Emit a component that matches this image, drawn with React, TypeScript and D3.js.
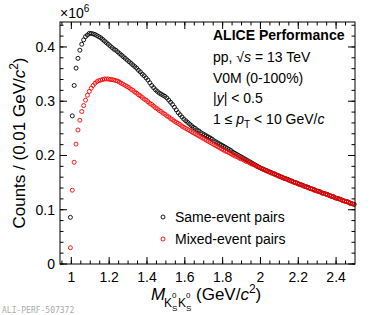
import {useMemo} from "react";
import * as d3 from "d3";

// K0s K0s invariant mass, 0.01 GeV/c^2 bins starting at 0.995
const BIN_START = 0.995;
const BIN_WIDTH = 0.01;

// Same-event pairs (x10^6 counts)
const sameEvent = [
    0.086, 0.273, 0.329, 0.361, 0.379, 0.394, 0.405, 0.413, 0.419, 0.422,
    0.425, 0.425, 0.424, 0.423, 0.421, 0.419, 0.417, 0.414, 0.411, 0.408,
    0.405, 0.402, 0.399, 0.396, 0.394, 0.391, 0.388, 0.385, 0.382, 0.379,
    0.376, 0.373, 0.370, 0.367, 0.364, 0.361, 0.357, 0.354, 0.350, 0.347,
    0.343, 0.339, 0.334, 0.329, 0.325, 0.321, 0.318, 0.315, 0.313, 0.311,
    0.309, 0.306, 0.302, 0.298, 0.294, 0.289, 0.284, 0.279, 0.275, 0.271,
    0.267, 0.264, 0.261, 0.258, 0.255, 0.252, 0.250, 0.247, 0.245, 0.242,
    0.240, 0.238, 0.236, 0.234, 0.232, 0.230, 0.227, 0.225, 0.223, 0.221,
    0.219, 0.217, 0.215, 0.213, 0.211, 0.209, 0.206, 0.204, 0.202, 0.200,
    0.198, 0.196, 0.194, 0.192, 0.190, 0.188, 0.186, 0.184, 0.182, 0.180,
    0.178, 0.176, 0.175, 0.173, 0.172, 0.170, 0.169, 0.167, 0.166, 0.164,
    0.163, 0.161, 0.160, 0.158, 0.157, 0.156, 0.154, 0.153, 0.151, 0.150,
    0.149, 0.147, 0.146, 0.145, 0.143, 0.142, 0.141, 0.139, 0.138, 0.137,
    0.135, 0.134, 0.133, 0.131, 0.130, 0.129, 0.128, 0.126, 0.125, 0.124,
    0.122, 0.121, 0.120, 0.119, 0.117, 0.116, 0.115, 0.114, 0.112, 0.111,
    0.110,
];

// Mixed-event pairs (x10^6 counts)
const mixedEvent = [
    0.030, 0.136, 0.1875, 0.221, 0.247, 0.265, 0.281, 0.292, 0.302, 0.311,
    0.318, 0.324, 0.329, 0.333, 0.336, 0.338, 0.339, 0.340, 0.341, 0.341,
    0.341, 0.340, 0.340, 0.339, 0.338, 0.337, 0.335, 0.333, 0.331, 0.329,
    0.327, 0.325, 0.322, 0.320, 0.317, 0.315, 0.312, 0.310, 0.307, 0.304,
    0.302, 0.299, 0.296, 0.294, 0.291, 0.288, 0.286, 0.283, 0.281, 0.278,
    0.276, 0.273, 0.271, 0.268, 0.266, 0.263, 0.261, 0.259, 0.257, 0.254,
    0.252, 0.250, 0.248, 0.246, 0.244, 0.242, 0.240, 0.238, 0.236, 0.234,
    0.232, 0.230, 0.228, 0.226, 0.224, 0.222, 0.220, 0.218, 0.216, 0.214,
    0.212, 0.210, 0.208, 0.207, 0.205, 0.203, 0.201, 0.199, 0.198, 0.196,
    0.194, 0.193, 0.191, 0.189, 0.188, 0.186, 0.184, 0.183, 0.181, 0.179,
    0.178, 0.176, 0.174, 0.173, 0.171, 0.170, 0.168, 0.167, 0.165, 0.164,
    0.162, 0.161, 0.159, 0.158, 0.157, 0.155, 0.154, 0.152, 0.151, 0.150,
    0.148, 0.147, 0.146, 0.144, 0.143, 0.142, 0.140, 0.139, 0.138, 0.136,
    0.135, 0.134, 0.133, 0.131, 0.130, 0.129, 0.128, 0.126, 0.125, 0.124,
    0.122, 0.121, 0.120, 0.119, 0.117, 0.116, 0.115, 0.114, 0.112, 0.111,
    0.110,
];

const legendLabels = ["Same-event pairs", "Mixed-event pairs"];
const seriesColors = ["#000000", "#ff0000"];

const WIDTH = 382;
const HEIGHT = 315;
const FRAME = {left: 60, right: 355, top: 22, bottom: 264};
const FONT = "'Liberation Sans', Arial, Helvetica, sans-serif";

export default function App() {
    const xScale = useMemo(() => d3.scaleLinear().domain([0.94, 2.5]).range([FRAME.left, FRAME.right]), []);
    const yScale = useMemo(() => d3.scaleLinear().domain([0, 0.446]).range([FRAME.bottom, FRAME.top]), []);

    const xMajor = d3.range(1.0, 2.41, 0.2);
    const xMinor = d3.range(0.95, 2.5, 0.05);
    const yMajor = d3.range(0, 0.41, 0.1);
    const yMinor = d3.range(0, 0.446, 0.02);

    const fmt = (v: number) => String(+v.toFixed(2));

    const points = (vals: number[], color: string, key: string) =>
        vals.map((v, i) => (
            <circle
                key={key + i}
                cx={xScale(BIN_START + i * BIN_WIDTH)}
                cy={yScale(v)}
                r={2}
                fill="none"
                stroke={color}
                strokeWidth={0.9}
            />
        ));

    const ML = 7, MN = 3.5;

    return (
        <svg width={WIDTH} height={HEIGHT} style={{position: "absolute", left: 0, top: 0}} fontFamily={FONT}>
            <rect width={WIDTH} height={HEIGHT} fill="white"/>

            {/* ticks on all four sides, pointing inward */}
            <g stroke="black" strokeWidth={1}>
                {xMinor.map((t, i) => (
                    <g key={"xm" + i}>
                        <line x1={xScale(t)} x2={xScale(t)} y1={FRAME.bottom} y2={FRAME.bottom - MN}/>
                        <line x1={xScale(t)} x2={xScale(t)} y1={FRAME.top} y2={FRAME.top + MN}/>
                    </g>
                ))}
                {xMajor.map((t, i) => (
                    <g key={"xM" + i}>
                        <line x1={xScale(t)} x2={xScale(t)} y1={FRAME.bottom} y2={FRAME.bottom - ML}/>
                        <line x1={xScale(t)} x2={xScale(t)} y1={FRAME.top} y2={FRAME.top + ML}/>
                    </g>
                ))}
                {yMinor.map((t, i) => (
                    <g key={"ym" + i}>
                        <line x1={FRAME.left} x2={FRAME.left + MN} y1={yScale(t)} y2={yScale(t)}/>
                        <line x1={FRAME.right} x2={FRAME.right - MN} y1={yScale(t)} y2={yScale(t)}/>
                    </g>
                ))}
                {yMajor.map((t, i) => (
                    <g key={"yM" + i}>
                        <line x1={FRAME.left} x2={FRAME.left + ML} y1={yScale(t)} y2={yScale(t)}/>
                        <line x1={FRAME.right} x2={FRAME.right - ML} y1={yScale(t)} y2={yScale(t)}/>
                    </g>
                ))}
            </g>

            {points(sameEvent, seriesColors[0], "s")}
            {points(mixedEvent, seriesColors[1], "m")}

            <rect x={FRAME.left} y={FRAME.top} width={FRAME.right - FRAME.left} height={FRAME.bottom - FRAME.top}
                  fill="none" stroke="black" strokeWidth={1}/>

            {/* tick labels */}
            {xMajor.map((t, i) => (
                <text key={"xl" + i} x={xScale(t)} y={282} fontSize={14} textAnchor="middle">{fmt(t)}</text>
            ))}
            {yMajor.map((t, i) => (
                <text key={"yl" + i} x={55} y={yScale(t) + 5} fontSize={14} textAnchor="end">{fmt(t)}</text>
            ))}

            <text x={60} y={18} fontSize={14}>×10<tspan fontSize={10} dy={-6}>6</tspan></text>

            {/* axis titles */}
            <text transform="translate(25,143) rotate(-90)" fontSize={17} textAnchor="middle">
                Counts / (0.01 GeV/<tspan fontStyle="italic">c</tspan><tspan fontSize={12} dy={-7}>2</tspan><tspan dy={7}>)</tspan>
            </text>
            <text x={151} y={300} fontSize={17} fontStyle="italic">M</text>
            <text x={164} y={307} fontSize={12}>K</text>
            <text x={172} y={298} fontSize={8}>0</text>
            <text x={172} y={311} fontSize={8}>S</text>
            <text x={178} y={307} fontSize={12}>K</text>
            <text x={186} y={298} fontSize={8}>0</text>
            <text x={186} y={311} fontSize={8}>S</text>
            <text x={196} y={300} fontSize={17}>
                {"(GeV/"}<tspan fontStyle="italic">c</tspan><tspan fontSize={12} dy={-7}>2</tspan><tspan dy={7}>)</tspan>
            </text>

            {/* info block */}
            <g fontSize={14}>
                <text x={213} y={40} fontWeight="bold">ALICE Performance</text>
                <text x={213} y={62}>pp, √<tspan fontStyle="italic">s</tspan> = 13 TeV</text>
                <text x={213} y={83}>V0M (0-100%)</text>
                <text x={213} y={103}>|<tspan fontStyle="italic">y</tspan>| &lt; 0.5</text>
                <text x={213} y={124}>1 ≤ <tspan fontStyle="italic">p</tspan><tspan fontSize={10} dy={4}>T</tspan><tspan dy={-4}> &lt; 10 GeV/</tspan><tspan fontStyle="italic">c</tspan></text>
            </g>

            {/* legend */}
            {legendLabels.map((label, i) => (
                <g key={"lg" + i}>
                    <circle cx={163} cy={217 + i * 22} r={2} fill="none" stroke={seriesColors[i]} strokeWidth={0.9}/>
                    <text x={175} y={222 + i * 22} fontSize={14}>{label}</text>
                </g>
            ))}

            <text x={2} y={313} fontSize={8} fill="#aaaaaa" fontFamily="'DejaVu Sans Mono', monospace">ALI-PERF-507372</text>
        </svg>
    );
}
